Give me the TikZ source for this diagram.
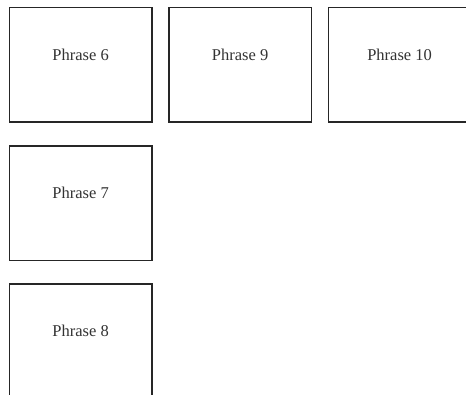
\documentclass[tikz,border=0pt]{standalone}
\usepackage{fontspec}
\setmainfont{Liberation Serif}
\begin{document}
\begin{tikzpicture}[x=1pt,y=1pt,
  phrasebox/.style={draw=black!85, line width=1.3pt, fill=white, minimum width=142.5pt, minimum height=114.5pt, inner sep=0pt, anchor=north west},
  phrasetxt/.style={font=\fontsize{16.5}{18}\selectfont, text=black!80, anchor=base, inner sep=0pt}]
\useasboundingbox (0,0) rectangle (466,-394);
\clip (0,0) rectangle (466,-394);
\node[phrasebox] (p6) at (8.7,-6.7) {};
\node[phrasebox] (p9) at (168.2,-6.7) {};
\node[phrasebox] (p10) at (327.7,-6.7) {};
\node[phrasebox] (p7) at (8.7,-145.2) {};
\node[phrasebox] (p8) at (8.7,-283.4) {};
\node[phrasetxt] (t6) at ([yshift=-53.5pt]p6.north) {Phrase 6};
\node[phrasetxt] (t9) at ([yshift=-53.5pt]p9.north) {Phrase 9};
\node[phrasetxt] (t10) at ([yshift=-53.5pt]p10.north) {Phrase 10};
\node[phrasetxt] (t7) at ([yshift=-53.5pt]p7.north) {Phrase 7};
\node[phrasetxt] (t8) at ([yshift=-53.5pt]p8.north) {Phrase 8};
\end{tikzpicture}
\end{document}
